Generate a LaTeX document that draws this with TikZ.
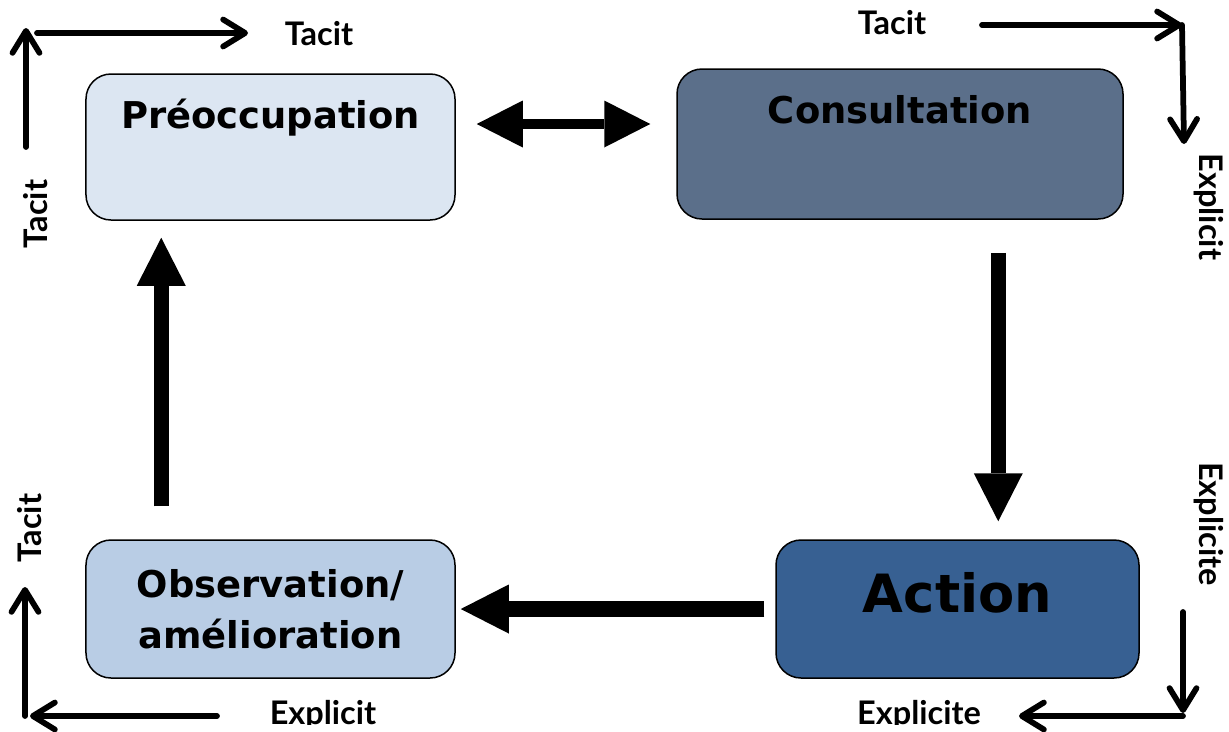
\documentclass[tikz,border=0pt]{standalone}
\usepackage{fontspec}
\setmainfont{DejaVu Sans}
\newfontfamily\labelfont{Lato}
\usetikzlibrary{arrows.meta}

\definecolor{preblue}{HTML}{DCE6F2}
\definecolor{consblue}{HTML}{5B6F8A}
\definecolor{actblue}{HTML}{376092}
\definecolor{obsblue}{HTML}{B9CDE5}

\tikzset{
  stagebox/.style={draw=black, line width=0.3mm, rounded corners=5mm,
    align=center, inner sep=0pt, font=\bfseries\fontsize{21}{29}\selectfont},
  fatarrow/.style={line width=3.1mm, -{Triangle[length=9.6mm,width=9.8mm,line width=0pt]}},
  fatboth/.style={line width=2.1mm, {Triangle[length=9.2mm,width=9.4mm,line width=0pt]}-{Triangle[length=9.2mm,width=9.4mm,line width=0pt]}},
  thinarrow/.style={line width=1.15mm, line cap=round, -{Straight Barb[length=4.4mm,width=5.4mm,round]}},
  modelabel/.style={inner sep=0pt, font=\labelfont\bfseries\fontsize{18.5}{21}\selectfont},
}

\begin{document}
\begin{tikzpicture}[x=0.2mm, y=-0.2mm]
  \useasboundingbox (0,0) rectangle (1229,731);
  % the four stages of the cycle
  \node[stagebox, fill=preblue, minimum width=73.8mm, minimum height=29.2mm,
    text height=16pt, text depth=37.6pt] (pre) at (270.5,147) {Préoccupation};
  \node[stagebox, fill=consblue, minimum width=89.2mm, minimum height=30mm,
    text height=16pt, text depth=39.4pt] (cons) at (900,144) {Consultation};
  \node[stagebox, fill=actblue, minimum width=72.6mm, minimum height=27.6mm,
    text height=23pt, text depth=19.6pt, font=\bfseries\fontsize{30}{36}\selectfont] (act) at (957.5,609) {Action};
  \node[stagebox, fill=obsblue, minimum width=73.8mm, minimum height=27.6mm] (obs) at (270.5,609) {Observation/\\amélioration};
  % thick arrows between the stages
  \draw[fatboth, shorten <=4.2mm, shorten >=5.2mm] ([yshift=4.6mm]pre.east) coordinate (dbl) -- (dbl -| cons.west);
  \draw[fatarrow, shorten <=6.6mm, shorten >=3.6mm] ([xshift=64.4mm]cons.south west) coordinate (dn) -- (dn |- act.north);
  \draw[fatarrow, shorten <=2.2mm, shorten >=1mm] (act.west) -- (obs.east);
  \draw[fatarrow, shorten <=6.6mm, shorten >=3.4mm] ([xshift=15.2mm]obs.north west) coordinate (up) -- (up |- pre.south);
  % tacit / explicit corners
  \coordinate (tlA) at (26,147);
  \coordinate (tlB) at (26,28);
  \coordinate (tlC) at (37,33);
  \coordinate (tlD) at (248,33);
  \coordinate (trA) at (982,25);
  \coordinate (trB) at (1182,25);
  \coordinate (trC) at (1184,144);
  \coordinate (brA) at (1183,612);
  \coordinate (brB) at (1183,713);
  \coordinate (brC) at (1183,716);
  \coordinate (brD) at (1019,716);
  \coordinate (blA) at (217,716);
  \coordinate (blB) at (30,716);
  \coordinate (blC) at (25,716);
  \coordinate (blD) at (25,587);
  \draw[thinarrow] (tlA) -- (tlB);
  \draw[thinarrow] (tlC) -- (tlD);
  \draw[thinarrow] (trA) -- (trB);
  \draw[thinarrow] (trB) -- (trC);
  \draw[thinarrow] (brA) -- (brB);
  \draw[thinarrow] (brC) -- (brD);
  \draw[thinarrow] (blA) -- (blB);
  \draw[thinarrow] (blC) -- (blD);
  \node[modelabel] (tacitTL) at (319,34) {Tacit};
  \node[modelabel, rotate=90] (tacitL) at (36,214) {Tacit};
  \node[modelabel] (tacitTR) at (892,23) {Tacit};
  \node[modelabel, rotate=-90] (explR) at (1209,207) {Explicit};
  \node[modelabel, rotate=-90] (expleR) at (1209,524) {Explicite};
  \node[modelabel, rotate=90] (tacitBL) at (30,528) {Tacit};
  % bottom labels are cut at the lower edge
  \begin{scope}
    \clip (0,0) rectangle (1229,724);
    \node[modelabel, anchor=base] (expleB) at (919,724) {Explicite};
    \node[modelabel, anchor=base] (explB) at (323,724) {Explicit};
  \end{scope}
\end{tikzpicture}
\end{document}
